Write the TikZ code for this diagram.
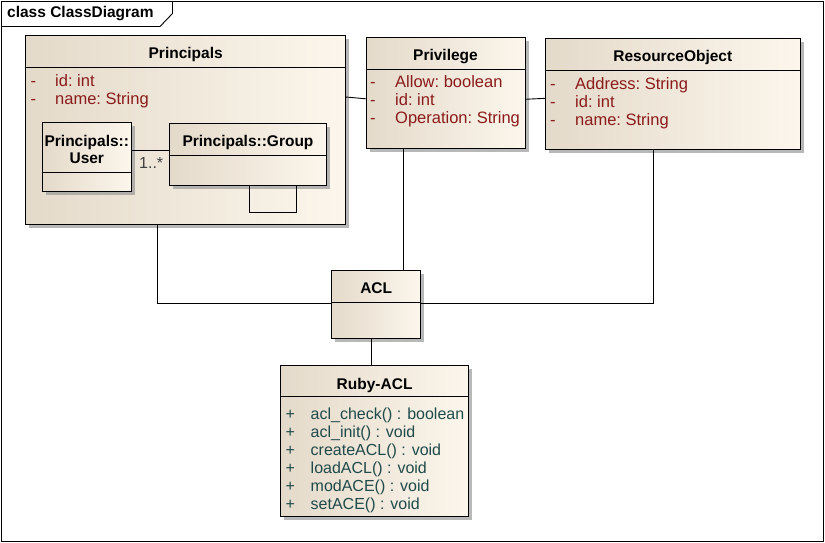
\documentclass[tikz,border=0pt]{standalone}
\usepackage{fontspec}
\setmainfont{Liberation Sans}
\usetikzlibrary{shadows,calc}
\definecolor{attrc}{HTML}{8B1A1A}
\definecolor{methc}{HTML}{1F4A4A}
\definecolor{boxl}{HTML}{E4DACA}
\definecolor{boxr}{HTML}{FCF6EC}
\definecolor{shad}{HTML}{9A9A9A}
\newcommand\rfont{\fontsize{16}{18}\selectfont}
\newcommand\afont{\fontsize{16.5}{18}\selectfont}
\newcommand\bfont{\fontsize{15.5}{18}\selectfont\bfseries}
\tikzset{
  classbox/.style={draw=black, line width=0.9pt, left color=boxl, right color=boxr,
    drop shadow={shadow xshift=3.5pt, shadow yshift=-3.5pt, fill=shad, opacity=0.7},
    anchor=north west, inner sep=0pt, outer sep=0pt},
  hline/.style={draw=black, line width=0.9pt},
  conn/.style={draw=black, line width=0.9pt},
  frame/.style={draw=black, line width=0.9pt},
  attr/.style={text=attrc, font=\afont, inner sep=0pt, anchor=base west},
  meth/.style={text=methc, font=\rfont, inner sep=0pt, anchor=base west},
  cname/.style={text=black, font=\bfont, inner sep=0pt, anchor=base},
  mult/.style={text=black!75, font=\rfont, inner sep=0pt, anchor=base west}
}
\newcommand\umlbox[6]{%
  \node[classbox, minimum width={#4pt-#2pt}, minimum height={#5pt-#3pt}] (#1) at (#2,#3) {};
  \draw[hline] (#2,#6) -- (#4,#6);}
\begin{document}
\begin{tikzpicture}[x=1pt,y=-1pt]
\useasboundingbox (0,0) rectangle (825,543);
\fill[white] (0,0) rectangle (825,543);
% frame
\draw[frame] (1.5,1.5) rectangle (823.5,541.5);
\draw[frame] (1.5,26.5) -- (160,26.5) -- (172.5,13.5) -- (172.5,1.5);
\node[font=\bfont, inner sep=0pt, anchor=base west] (title) at (7,17.5) {class ClassDiagram};

% Principals
\umlbox{prin}{25.7}{35.7}{345.7}{224}{67.3}
\node[cname] (prinN) at (185.7,59) {Principals};
\node[attr] (pd1) at (30.5,86) {-};
\node[attr] (pa1) at (55,86) {id:\ int};
\node[attr] (pd2) at (30.5,104) {-};
\node[attr] (pa2) at (55,104) {name:\ String};

% User
\umlbox{user}{42.3}{122.3}{131.3}{191}{172.3}
\node[cname] (userN1) at (86.8,146) {Principals::};
\node[cname] (userN2) at (86.8,163) {User};

% Group
\umlbox{group}{169.7}{123.7}{326.3}{185}{155}
\node[cname] (groupN) at (248,146) {Principals::Group};

% Privilege
\umlbox{priv}{366}{37.3}{525}{148.3}{69.3}
\node[cname] (privN) at (445.5,61) {Privilege};
\node[attr] (vd1) at (370,88) {-};
\node[attr] (va1) at (395,88) {Allow:\ boolean};
\node[attr] (vd2) at (370,106) {-};
\node[attr] (va2) at (395,106) {id:\ int};
\node[attr] (vd3) at (370,124) {-};
\node[attr] (va3) at (395,124) {Operation:\ String};

% ResourceObject
\umlbox{res}{545.7}{38.3}{800}{149}{70.7}
\node[cname] (resN) at (672.8,62) {ResourceObject};
\node[attr] (rd1) at (550,89) {-};
\node[attr] (ra1) at (575,89) {Address:\ String};
\node[attr] (rd2) at (550,107) {-};
\node[attr] (ra2) at (575,107) {id:\ int};
\node[attr] (rd3) at (550,125) {-};
\node[attr] (ra3) at (575,125) {name:\ String};

% ACL
\umlbox{acl}{331.7}{270.7}{420.7}{338.3}{302.7}
\node[cname] (aclN) at (376.2,293.5) {ACL};

% Ruby-ACL
\umlbox{ruby}{280.7}{365.7}{468.5}{516.7}{396.7}
\node[cname] (rubyN) at (374.6,389.3) {Ruby-ACL};
\foreach \t [count=\i] in {acl\_check() : boolean, acl\_init() : void, createACL() : void, loadACL() : void, modACE() : void, setACE() : void}{
  \node[meth] (mp\i) at (285.5,{401+18*\i}) {+};
  \node[meth] (mt\i) at (310.5,{401+18*\i}) {\t};
}

% connectors
\draw[conn] ($(user.north east)+(0,27.7)$) coordinate (u1) -- (u1 -| group.west);
\node[mult] (m1) at (139,168) {1..*};
\draw[conn] ($(group.south west)+(79.6,0)$) -- ++(0,27) -- ++(47,0) -- ++(0,-27);
\draw[conn] ($(prin.north east)+(0,61.3)$) -- ($(priv.north west)+(0,61.5)$);
\draw[conn] ($(priv.north east)+(0,62)$) -- ($(res.north west)+(0,60)$);
\draw[conn] ($(prin.south west)+(131.6,0)$) |- ($(acl.north west)+(0,32.6)$);
\draw[conn] ($(priv.south west)+(37.3,0)$) coordinate (p1) -- (p1 |- acl.north);
\draw[conn] ($(res.south west)+(107.6,0)$) |- ($(acl.north east)+(0,32.6)$);
\draw[conn] ($(acl.south west)+(39.3,0)$) coordinate (a1) -- (a1 |- ruby.north);
\end{tikzpicture}
\end{document}
